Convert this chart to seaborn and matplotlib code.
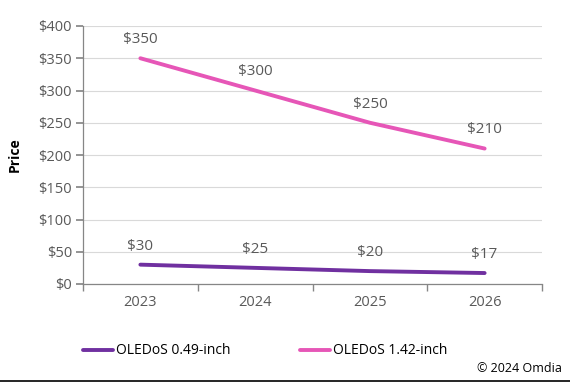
import matplotlib
matplotlib.use("Agg")
import matplotlib.pyplot as plt
import seaborn as sns
import pandas as pd
from matplotlib.lines import Line2D

years = ["2023", "2024", "2025", "2026"]
small_prices = [30, 25, 20, 17]
large_prices = [350, 300, 250, 210]
series_names = ["OLEDoS 0.49-inch", "OLEDoS 1.42-inch"]
colors = ["#7030A0", "#E656B7"]
y_ticks = [0, 50, 100, 150, 200, 250, 300, 350, 400]

sns.set_theme(style="white")
plt.rcParams["font.family"] = ["Open Sans", "DejaVu Sans"]

rows = []
for name, vals in zip(series_names, [small_prices, large_prices]):
    for i, (yr, v) in enumerate(zip(years, vals)):
        rows.append({"pos": i, "year": yr, "price": v, "series": name})
df = pd.DataFrame(rows)

fig = plt.figure(figsize=(5.7, 3.88), dpi=100)
ax = fig.add_axes([83/570, 1-284/388, (542-83)/570, (284-26)/388])

sns.lineplot(data=df, x="pos", y="price", hue="series", hue_order=series_names,
             palette=colors, linewidth=2.8, ax=ax, legend=False, sort=False)

text_gray = "#595959"
for name, vals in zip(series_names, [small_prices, large_prices]):
    for i, v in enumerate(vals):
        ax.annotate(f"${v}", (i, v), xytext=(0, 8), textcoords="offset points",
                    ha="center", va="bottom", fontsize=11, color=text_gray)

ax.set_xlim(-0.5, 3.5)
ax.set_ylim(0, 400)
ax.set_yticks(y_ticks)
ax.set_yticklabels([f"${t}" for t in y_ticks], fontsize=10.5, color=text_gray)
ax.set_xticks([0, 1, 2, 3])
ax.set_xticklabels(years, fontsize=10.5, color=text_gray)
ax.set_xticks([-0.5, 0.5, 1.5, 2.5, 3.5], minor=True)
ax.tick_params(axis="x", which="major", length=0, pad=8)
ax.tick_params(axis="x", which="minor", length=5, color="#868686", direction="out", bottom=True)
ax.tick_params(axis="y", length=5, color="#868686", direction="out", left=True, pad=3)
ax.grid(axis="y", color="#D9D9D9", linewidth=0.8)
ax.set_axisbelow(True)
for s in ["top", "right"]:
    ax.spines[s].set_visible(False)
for s in ["left", "bottom"]:
    ax.spines[s].set_color("#868686")
    ax.spines[s].set_linewidth(0.9)
ax.set_xlabel("")
ax.set_ylabel("Price", fontsize=10, fontweight="bold", color="black", labelpad=12)

handles = [Line2D([0], [0], color=c, lw=2.8) for c in colors]
fig.legend(handles, series_names, loc="center left", bbox_to_anchor=(70/570, 1-351/388),
           ncol=2, frameon=False, fontsize=10, handlelength=2.2, handletextpad=0.2,
           columnspacing=5.0, labelcolor="black")

fig.text(562/570, 1-369/388, "© 2024 Omdia", ha="right", va="center", fontsize=9, color="black")
fig.add_artist(Line2D([0, 1], [1-381/388, 1-381/388], color="black", lw=1.2,
                      transform=fig.transFigure))

fig.savefig("out.png", dpi=100)
